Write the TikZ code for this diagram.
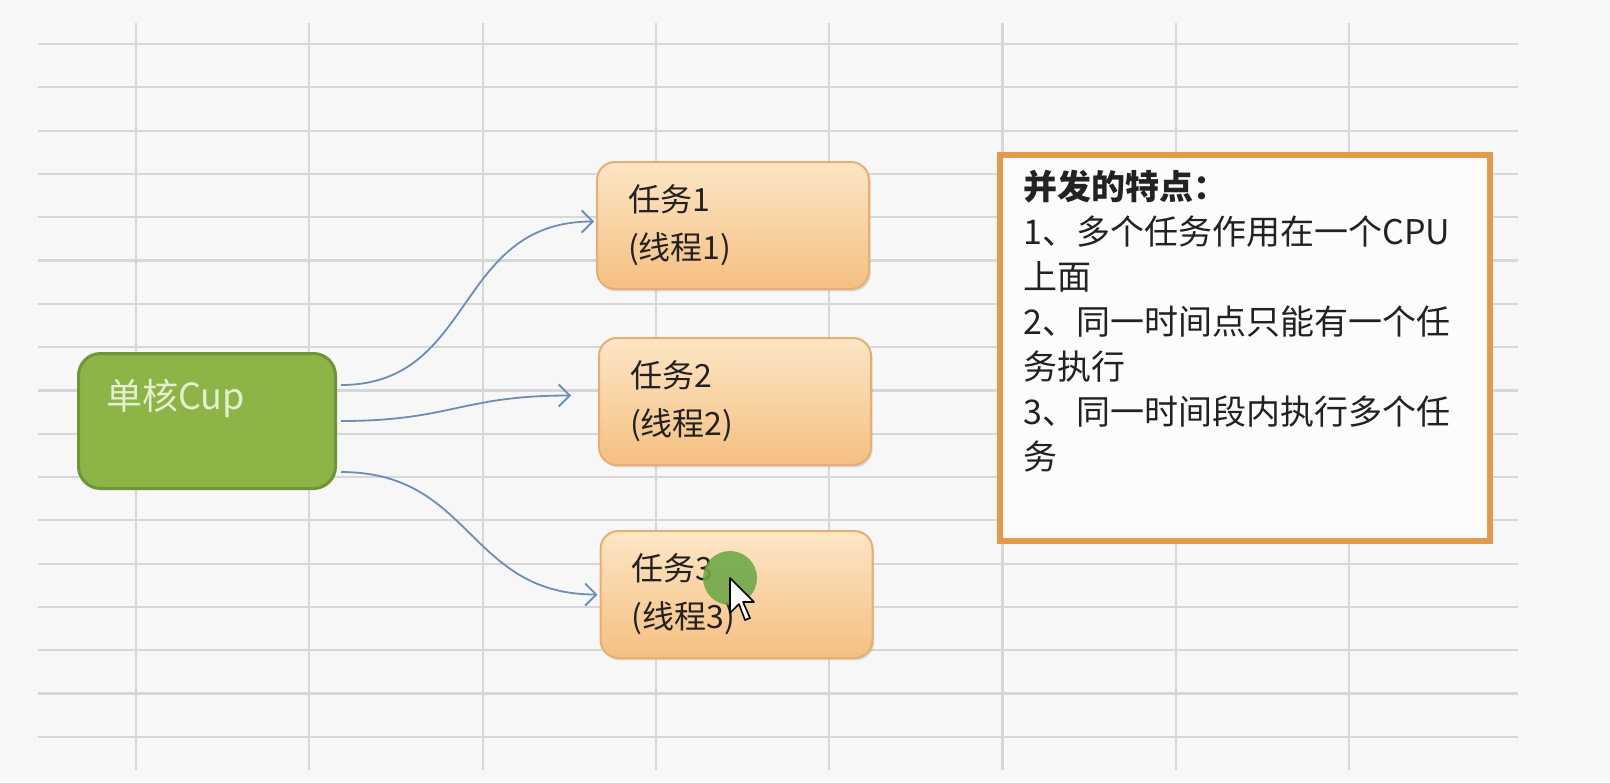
\documentclass[tikz,border=0pt]{standalone}
\usepackage{fontspec}
\setmainfont{Noto Sans CJK SC}
\usetikzlibrary{arrows.meta,shadows,calc}
\definecolor{fond}{HTML}{F7F7F7}
\definecolor{grille}{HTML}{D5D8DB}
\definecolor{vert}{HTML}{8DB446}
\definecolor{vertbord}{HTML}{6F9536}
\definecolor{vertclair}{HTML}{E4EFCF}
\definecolor{peche}{HTML}{FDE6C6}
\definecolor{pechefonce}{HTML}{F5BF80}
\definecolor{pechebord}{HTML}{E6AF72}
\definecolor{cadre}{HTML}{E39A4B}
\definecolor{bleu}{HTML}{6E8DB6}
\definecolor{texte}{HTML}{222222}
\definecolor{clic}{HTML}{6BA848}

\begin{document}
\begin{tikzpicture}[x=0.5pt,y=-0.5pt]
\tikzstyle{fleche}=[->,>={Straight Barb[length=5.5pt,width=11pt]},bleu,line width=0.9pt]
\tikzset{tache/.style={draw=pechebord,line width=1pt,rounded corners=9pt,
top color=peche,bottom color=pechefonce,
drop shadow={opacity=0.25,shadow xshift=0.8pt,shadow yshift=-1.2pt},
minimum height=63.5pt,text width=105pt,inner xsep=15.5pt,align=left,
text=texte,font=\fontsize{16}{24}\selectfont},
coeur/.style={draw=vertbord,line width=1.5pt,fill=vert,rounded corners=11pt,
inner xsep=13.75pt,inner ysep=13pt,text=vertclair,font=\fontsize{18}{22}\selectfont},
note/.style={draw=cadre,line width=3pt,fill=white!60!fond,inner xsep=12pt,inner ysep=7.5pt,
text=texte,font=\fontsize{17}{22.5}\selectfont}}

\useasboundingbox (0,0) rectangle (1610,782);
\fill[fond] (0,0) rectangle (1610,782);
% grille du tableur
\foreach \i in {0,...,7}
  \draw[grille,line width=1.1pt] ({136+173.3*\i},23) -- ({136+173.3*\i},770);
\foreach \k in {0,...,16}
  \draw[grille,line width=1.1pt] (38,{44+43.3*\k}) -- (1518,{44+43.3*\k});

\node[coeur] (cpu) at (207,421) {\parbox[c][41.5pt][t]{101pt}{单核Cup}};
\node[tache] (t1) at (733,225.5) {任务1\\(线程1)};
\node[tache] (t2) at (735,401.5) {任务2\\(线程2)};
\node[tache] (t3) at (736.5,594.5) {任务3\\(线程3)};
\node[note] (notes) at (1244.5,348) {\parbox[c][178pt][t]{221pt}{\raggedright
\textbf{并发的特点：}\\
1、多个任务作用在一个CPU\\
上面\\
2、同一时间点只能有一个任\\
务执行\\
3、同一时间段内执行多个任\\
务}};

\draw[fleche] ($(cpu.east)+(4,-36)$) .. controls +(135,0) and +(-140,0) .. ($(t1.west)+(-2,-4)$);
\draw[fleche] ($(cpu.east)+(4,0)$) .. controls +(110,0) and +(-110,0) .. ($(t2.west)+(-27,-6)$);
\draw[fleche] ($(cpu.east)+(4,51)$) .. controls +(132,0) and +(-130,0) .. ($(t3.west)+(-2,0)$);

% pointeur de souris
\fill[clic,opacity=0.88] (730,578) circle[radius=27];
\filldraw[fill=white,draw=black,line width=0.8pt,line join=round] (730,578) -- ++(0,35) -- ++(9,-9)
  -- ++(6,16) -- ++(5,-2) -- ++(-7,-16) -- ++(11,0) -- cycle;
\end{tikzpicture}
\end{document}
